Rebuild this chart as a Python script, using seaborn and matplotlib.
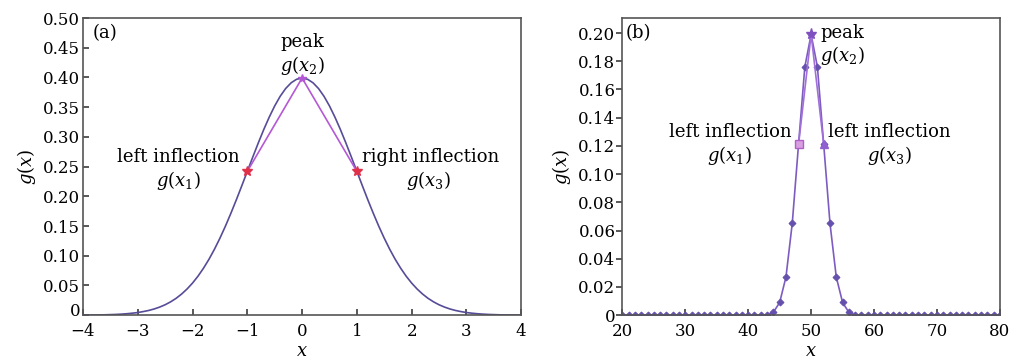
import matplotlib
matplotlib.use("Agg")
import matplotlib.pyplot as plt
import matplotlib.transforms as mtransforms
import seaborn as sns

# panel (a): smooth curve, step 0.1
xa = [round(-4.0 + 0.1 * i, 1) for i in range(81)]
ga = [0.0001, 0.0002, 0.0003, 0.0004, 0.0006, 0.0009, 0.0012, 0.0017, 0.0024, 0.0033,
      0.0044, 0.0060, 0.0079, 0.0104, 0.0136, 0.0175, 0.0224, 0.0283, 0.0355, 0.0440,
      0.0540, 0.0656, 0.0790, 0.0940, 0.1109, 0.1295, 0.1497, 0.1714, 0.1942, 0.2179,
      0.2420, 0.2661, 0.2897, 0.3123, 0.3332, 0.3521, 0.3683, 0.3814, 0.3910, 0.3970,
      0.3989,
      0.3970, 0.3910, 0.3814, 0.3683, 0.3521, 0.3332, 0.3123, 0.2897, 0.2661, 0.2420,
      0.2179, 0.1942, 0.1714, 0.1497, 0.1295, 0.1109, 0.0940, 0.0790, 0.0656, 0.0540,
      0.0440, 0.0355, 0.0283, 0.0224, 0.0175, 0.0136, 0.0104, 0.0079, 0.0060, 0.0044,
      0.0033, 0.0024, 0.0017, 0.0012, 0.0009, 0.0006, 0.0004, 0.0003, 0.0002, 0.0001]
xa_tri = [-1.0, 0.0, 1.0]
ga_tri = [0.242, 0.399, 0.242]

# panel (b): sampled points at integer x
xb = list(range(20, 81))
gb = ([0.0] * 24 +
      [0.002, 0.009, 0.027, 0.065, 0.121, 0.176, 0.199, 0.176, 0.121, 0.065, 0.027, 0.009, 0.002] +
      [0.0] * 24)
xb_tri = [48, 50, 52]
gb_tri = [0.121, 0.199, 0.121]

sns.set_theme(style="ticks")
plt.rcParams["font.family"] = ["DejaVu Serif"]
plt.rcParams["mathtext.fontset"] = "dejavuserif"
plt.rcParams["axes.edgecolor"] = "#555555"
plt.rcParams["axes.linewidth"] = 1.2
plt.rcParams["text.color"] = "black"
plt.rcParams["xtick.color"] = "#444444"
plt.rcParams["ytick.color"] = "#444444"
plt.rcParams["xtick.labelcolor"] = "black"
plt.rcParams["ytick.labelcolor"] = "black"
plt.rcParams["axes.labelcolor"] = "black"

fig = plt.figure(figsize=(10.12, 3.61), dpi=100)
ax1 = fig.add_axes([0.082, 0.127, 0.433, 0.823])
ax2 = fig.add_axes([0.615, 0.127, 0.373, 0.823])

fs = 12
afs = 13
dark = "#564c98"
mag = "#b458d6"

# (a)
sns.lineplot(x=xa, y=ga, ax=ax1, color=dark, lw=1.2)
sns.lineplot(x=xa_tri, y=ga_tri, ax=ax1, color=mag, lw=1.2)
ax1.plot(xa_tri[::2], ga_tri[::2], ls="none", marker="*", color="#e0304a", ms=7)
ax1.plot([0], [0.399], ls="none", marker="*", color=mag, ms=6)
ax1.set_xlim(-4, 4)
ax1.set_ylim(0, 0.5)
ax1.set_xticks(range(-4, 5))
ax1.set_xticklabels(["\u22124", "\u22123", "\u22122", "\u22121", "0", "1", "2", "3", "4"])
ax1.set_yticks([i * 0.05 for i in range(11)])
ax1.set_yticklabels(["0"] + [f"{i*0.05:.2f}" for i in range(1, 11)])
ax1.tick_params(axis="x", direction="in", labelsize=fs, length=4, pad=6)
ax1.tick_params(axis="y", direction="in", labelsize=fs, length=4, pad=2)
ax1.set_xlabel("$x$", fontsize=fs + 1, labelpad=1)
ax1.set_ylabel("$g(x)$", fontsize=fs + 1, labelpad=4)
ax1.text(-3.6, 0.475, "(a)", fontsize=afs, ha="center", va="center")
ax1.text(0, 0.46, "peak", fontsize=afs, ha="center", va="center")
ax1.text(0, 0.42, "$g(x_2)$", fontsize=afs, ha="center", va="center")
ax1.text(-2.26, 0.266, "left inflection", fontsize=afs, ha="center", va="center")
ax1.text(-2.26, 0.226, "$g(x_1)$", fontsize=afs, ha="center", va="center")
ax1.text(2.34, 0.266, "right inflection", fontsize=afs, ha="center", va="center")
ax1.text(2.30, 0.226, "$g(x_3)$", fontsize=afs, ha="center", va="center")

# nudge the "0" label up a little so it clears the "-4" below it
zero = ax1.get_yticklabels()[0]
zero.set_transform(zero.get_transform() +
                   mtransforms.ScaledTranslation(0, 4 / 72, fig.dpi_scale_trans))

# (b)
purple = "#7d5cc2"
sns.lineplot(x=xb, y=gb, ax=ax2, color=purple, lw=1.2, marker="D", ms=3.5,
             markeredgecolor="#6650ad", markerfacecolor="#6650ad")
sns.lineplot(x=xb_tri, y=gb_tri, ax=ax2, color="#a070d8", lw=1.2)
ax2.plot([48], [0.121], ls="none", marker="s", ms=6, markerfacecolor="#d8a0e0",
         markeredgecolor="#b060c8")
ax2.plot([50], [0.199], ls="none", marker="*", ms=8, color="#8050c0")
ax2.plot([52], [0.121], ls="none", marker="^", ms=6, color="#9060d0")
ax2.set_xlim(20, 80)
ax2.set_ylim(0, 0.2106)
ax2.set_xticks(range(20, 81, 10))
ax2.set_yticks([i * 0.02 for i in range(11)])
ax2.set_yticklabels(["0"] + [f"{i*0.02:.2f}" for i in range(1, 11)])
ax2.tick_params(axis="x", direction="in", labelsize=fs, length=4, pad=6)
ax2.tick_params(axis="y", direction="out", labelsize=fs, length=4, pad=1)
ax2.set_xlabel("$x$", fontsize=fs + 1, labelpad=1)
ax2.set_ylabel("$g(x)$", fontsize=fs + 1, labelpad=4)
ax2.text(22.5, 0.200, "(b)", fontsize=afs, ha="center", va="center")
ax2.text(51.4, 0.200, "peak", fontsize=afs, ha="left", va="center")
ax2.text(51.4, 0.184, "$g(x_2)$", fontsize=afs, ha="left", va="center")
ax2.text(37.1, 0.130, "left inflection", fontsize=afs, ha="center", va="center")
ax2.text(37.0, 0.113, "$g(x_1)$", fontsize=afs, ha="center", va="center")
ax2.text(62.5, 0.130, "left inflection", fontsize=afs, ha="center", va="center")
ax2.text(62.4, 0.113, "$g(x_3)$", fontsize=afs, ha="center", va="center")

for ax in (ax1, ax2):
    for s in ax.spines.values():
        s.set_visible(True)

fig.savefig("out.png", dpi=100)
